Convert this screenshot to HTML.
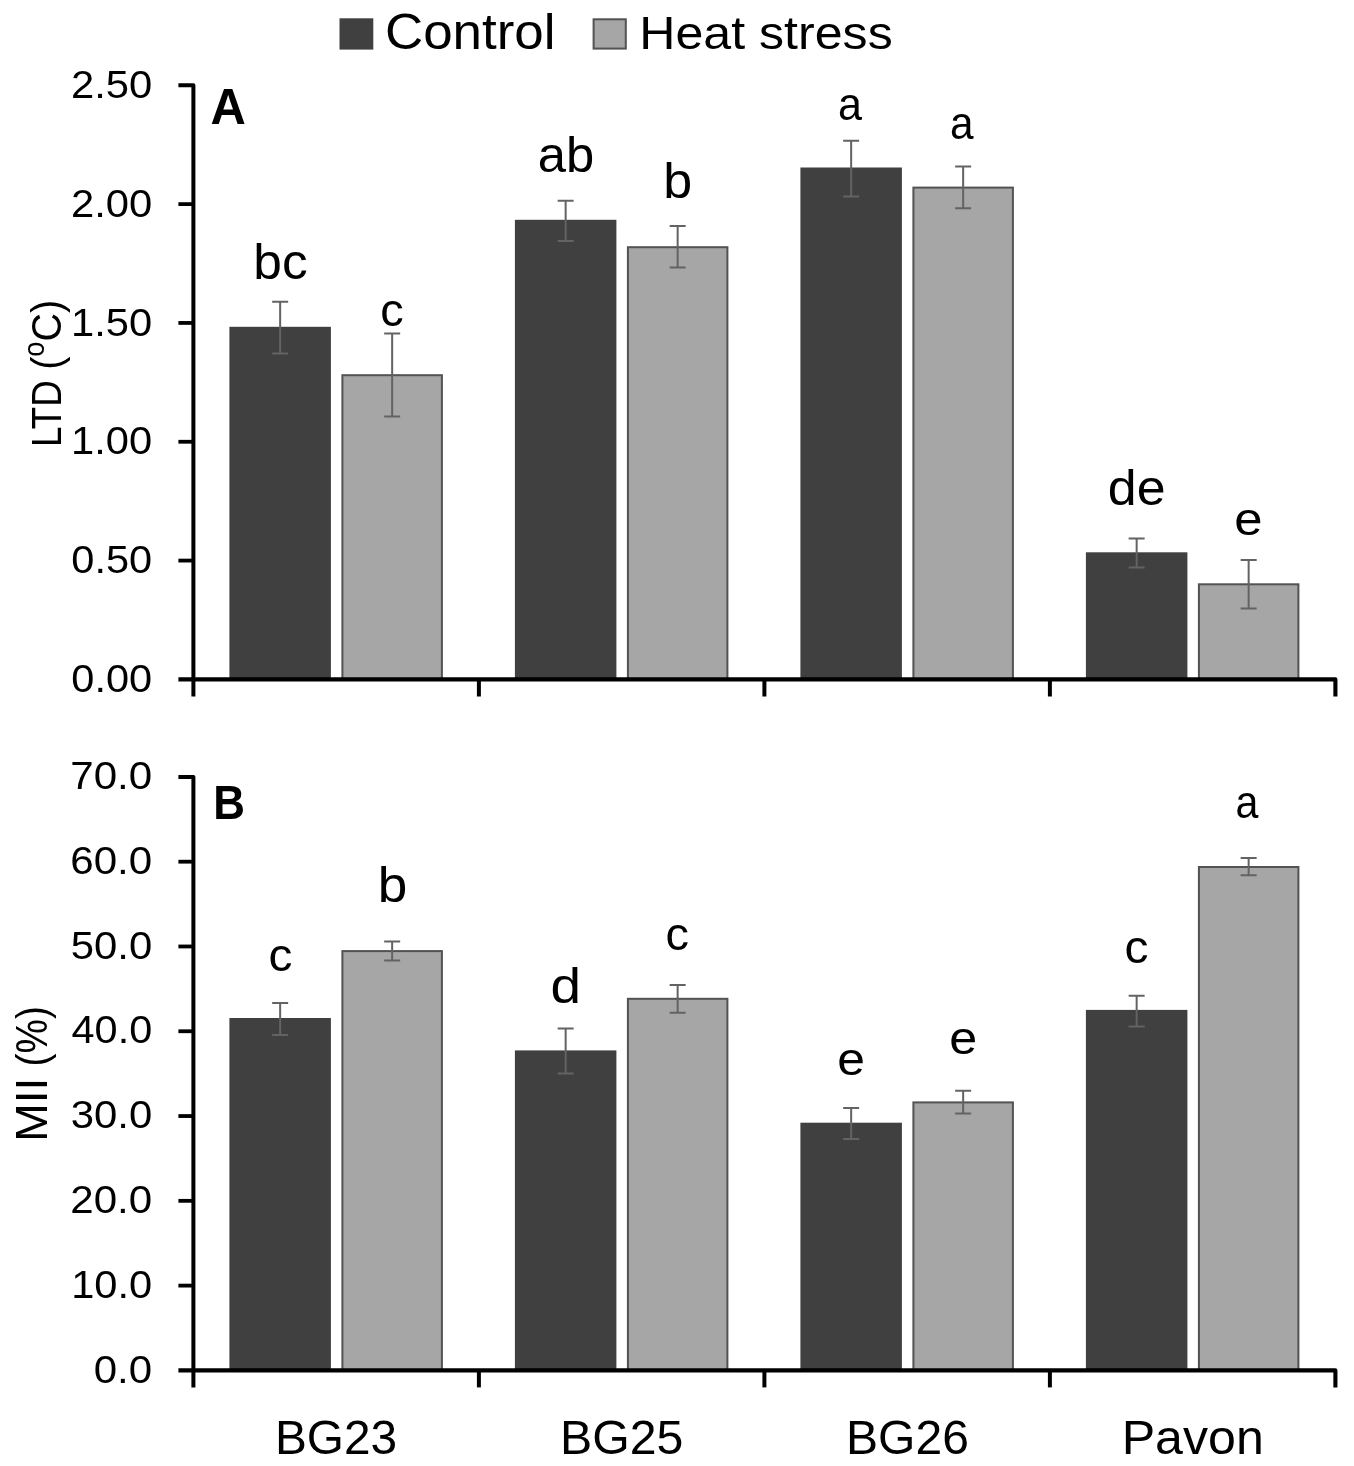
<!DOCTYPE html>
<html><head><meta charset="utf-8"><title>Chart</title>
<style>
html,body{margin:0;padding:0;background:#fff;}
svg{display:block;font-family:"Liberation Sans",sans-serif;}
</style></head><body>
<svg width="1354" height="1466" viewBox="0 0 1354 1466">
<defs><filter id="soft" x="0" y="0" width="1354" height="1466" filterUnits="userSpaceOnUse"><feGaussianBlur stdDeviation="0.55"/></filter></defs>
<rect x="0" y="0" width="1354" height="1466" fill="#ffffff"/>
<g filter="url(#soft)">
<rect x="0" y="0" width="1354" height="1466" fill="#ffffff"/>
<rect x="230.40" y="327.80" width="99.50" height="351.60" fill="#404040" stroke="#404040" stroke-width="2"/>
<rect x="342.40" y="375.20" width="99.50" height="304.20" fill="#a6a6a6" stroke="#525252" stroke-width="2"/>
<rect x="515.90" y="220.80" width="99.50" height="458.60" fill="#404040" stroke="#404040" stroke-width="2"/>
<rect x="627.90" y="247.20" width="99.50" height="432.20" fill="#a6a6a6" stroke="#525252" stroke-width="2"/>
<rect x="801.40" y="168.50" width="99.50" height="510.90" fill="#404040" stroke="#404040" stroke-width="2"/>
<rect x="913.40" y="187.60" width="99.50" height="491.80" fill="#a6a6a6" stroke="#525252" stroke-width="2"/>
<rect x="1086.90" y="553.30" width="99.50" height="126.10" fill="#404040" stroke="#404040" stroke-width="2"/>
<rect x="1198.90" y="584.30" width="99.50" height="95.10" fill="#a6a6a6" stroke="#525252" stroke-width="2"/>
<path d="M280.15,301.70V353.60M272.15,301.70H288.15M272.15,353.60H288.15" stroke="#636363" stroke-width="2" fill="none"/>
<path d="M392.15,333.40V416.40M384.15,333.40H400.15M384.15,416.40H400.15" stroke="#636363" stroke-width="2" fill="none"/>
<path d="M565.65,200.80V240.90M557.65,200.80H573.65M557.65,240.90H573.65" stroke="#636363" stroke-width="2" fill="none"/>
<path d="M677.65,226.00V267.50M669.65,226.00H685.65M669.65,267.50H685.65" stroke="#636363" stroke-width="2" fill="none"/>
<path d="M851.15,140.70V196.40M843.15,140.70H859.15M843.15,196.40H859.15" stroke="#636363" stroke-width="2" fill="none"/>
<path d="M963.15,166.40V208.20M955.15,166.40H971.15M955.15,208.20H971.15" stroke="#636363" stroke-width="2" fill="none"/>
<path d="M1136.65,538.60V567.50M1128.65,538.60H1144.65M1128.65,567.50H1144.65" stroke="#636363" stroke-width="2" fill="none"/>
<path d="M1248.65,559.90V608.60M1240.65,559.90H1256.65M1240.65,608.60H1256.65" stroke="#636363" stroke-width="2" fill="none"/>
<path d="M178.40,85.30H193.40V696.50" stroke="#000" stroke-width="4" stroke-linejoin="round" fill="none"/>
<path d="M178.40,679.40H1335.40V696.50" stroke="#000" stroke-width="4.1" stroke-linejoin="round" fill="none"/>
<path d="M178.40,560.58H193.40" stroke="#000" stroke-width="3.8" fill="none"/>
<path d="M178.40,441.76H193.40" stroke="#000" stroke-width="3.8" fill="none"/>
<path d="M178.40,322.94H193.40" stroke="#000" stroke-width="3.8" fill="none"/>
<path d="M178.40,204.12H193.40" stroke="#000" stroke-width="3.8" fill="none"/>
<path d="M478.90,679.40V696.50" stroke="#000" stroke-width="4" fill="none"/>
<path d="M764.40,679.40V696.50" stroke="#000" stroke-width="4" fill="none"/>
<path d="M1049.90,679.40V696.50" stroke="#000" stroke-width="4" fill="none"/>
<rect x="230.40" y="1019.00" width="99.50" height="351.40" fill="#404040" stroke="#404040" stroke-width="2"/>
<rect x="342.40" y="951.10" width="99.50" height="419.30" fill="#a6a6a6" stroke="#525252" stroke-width="2"/>
<rect x="515.90" y="1051.40" width="99.50" height="319.00" fill="#404040" stroke="#404040" stroke-width="2"/>
<rect x="627.90" y="998.80" width="99.50" height="371.60" fill="#a6a6a6" stroke="#525252" stroke-width="2"/>
<rect x="801.40" y="1123.70" width="99.50" height="246.70" fill="#404040" stroke="#404040" stroke-width="2"/>
<rect x="913.40" y="1102.40" width="99.50" height="268.00" fill="#a6a6a6" stroke="#525252" stroke-width="2"/>
<rect x="1086.90" y="1010.90" width="99.50" height="359.50" fill="#404040" stroke="#404040" stroke-width="2"/>
<rect x="1198.90" y="867.00" width="99.50" height="503.40" fill="#a6a6a6" stroke="#525252" stroke-width="2"/>
<path d="M280.15,1003.10V1034.90M272.15,1003.10H288.15M272.15,1034.90H288.15" stroke="#636363" stroke-width="2" fill="none"/>
<path d="M392.15,941.60V960.40M384.15,941.60H400.15M384.15,960.40H400.15" stroke="#636363" stroke-width="2" fill="none"/>
<path d="M565.65,1028.60V1073.40M557.65,1028.60H573.65M557.65,1073.40H573.65" stroke="#636363" stroke-width="2" fill="none"/>
<path d="M677.65,985.00V1012.80M669.65,985.00H685.65M669.65,1012.80H685.65" stroke="#636363" stroke-width="2" fill="none"/>
<path d="M851.15,1108.10V1139.10M843.15,1108.10H859.15M843.15,1139.10H859.15" stroke="#636363" stroke-width="2" fill="none"/>
<path d="M963.15,1090.70V1113.60M955.15,1090.70H971.15M955.15,1113.60H971.15" stroke="#636363" stroke-width="2" fill="none"/>
<path d="M1136.65,995.70V1026.60M1128.65,995.70H1144.65M1128.65,1026.60H1144.65" stroke="#636363" stroke-width="2" fill="none"/>
<path d="M1248.65,858.00V875.20M1240.65,858.00H1256.65M1240.65,875.20H1256.65" stroke="#636363" stroke-width="2" fill="none"/>
<path d="M178.40,776.90H193.40V1387.40" stroke="#000" stroke-width="4" stroke-linejoin="round" fill="none"/>
<path d="M178.40,1370.40H1335.40V1387.40" stroke="#000" stroke-width="4.1" stroke-linejoin="round" fill="none"/>
<path d="M178.40,1285.61H193.40" stroke="#000" stroke-width="3.8" fill="none"/>
<path d="M178.40,1200.83H193.40" stroke="#000" stroke-width="3.8" fill="none"/>
<path d="M178.40,1116.04H193.40" stroke="#000" stroke-width="3.8" fill="none"/>
<path d="M178.40,1031.26H193.40" stroke="#000" stroke-width="3.8" fill="none"/>
<path d="M178.40,946.47H193.40" stroke="#000" stroke-width="3.8" fill="none"/>
<path d="M178.40,861.69H193.40" stroke="#000" stroke-width="3.8" fill="none"/>
<path d="M478.90,1370.40V1387.40" stroke="#000" stroke-width="4" fill="none"/>
<path d="M764.40,1370.40V1387.40" stroke="#000" stroke-width="4" fill="none"/>
<path d="M1049.90,1370.40V1387.40" stroke="#000" stroke-width="4" fill="none"/>
<rect x="340.5" y="19.3" width="31.8" height="29.3" fill="#404040" stroke="#404040" stroke-width="2"/>
<rect x="593.6" y="19.3" width="32.2" height="29.3" fill="#a6a6a6" stroke="#525252" stroke-width="2"/>
<text transform="translate(384.95,48.71) scale(0.2647,0.2456)" font-size="200" fill="#000">Control</text>
<text transform="translate(639.29,48.53) scale(0.2506,0.2350)" font-size="200" fill="#000">Heat stress</text>
<text transform="translate(71.34,692.11) scale(0.2078,0.1965)" font-size="200" fill="#000">0.00</text>
<text transform="translate(71.34,573.29) scale(0.2078,0.1965)" font-size="200" fill="#000">0.50</text>
<text transform="translate(71.07,454.47) scale(0.2084,0.1965)" font-size="200" fill="#000">1.00</text>
<text transform="translate(71.07,335.65) scale(0.2084,0.1965)" font-size="200" fill="#000">1.50</text>
<text transform="translate(70.91,216.83) scale(0.2089,0.1965)" font-size="200" fill="#000">2.00</text>
<text transform="translate(70.91,98.01) scale(0.2089,0.1965)" font-size="200" fill="#000">2.50</text>
<text transform="translate(93.72,1382.61) scale(0.2103,0.1965)" font-size="200" fill="#000">0.0</text>
<text transform="translate(71.18,1297.82) scale(0.2082,0.1965)" font-size="200" fill="#000">10.0</text>
<text transform="translate(70.30,1213.04) scale(0.2105,0.1965)" font-size="200" fill="#000">20.0</text>
<text transform="translate(70.73,1128.25) scale(0.2094,0.1965)" font-size="200" fill="#000">30.0</text>
<text transform="translate(71.57,1043.46) scale(0.2071,0.1965)" font-size="200" fill="#000">40.0</text>
<text transform="translate(70.73,958.68) scale(0.2094,0.1965)" font-size="200" fill="#000">50.0</text>
<text transform="translate(70.30,873.89) scale(0.2105,0.1965)" font-size="200" fill="#000">60.0</text>
<text transform="translate(70.30,789.11) scale(0.2105,0.1965)" font-size="200" fill="#000">70.0</text>
<text transform="translate(274.98,1454.32) scale(0.2388,0.2387)" font-size="200" fill="#000">BG23</text>
<text transform="translate(560.04,1454.32) scale(0.2411,0.2387)" font-size="200" fill="#000">BG25</text>
<text transform="translate(846.06,1454.32) scale(0.2402,0.2387)" font-size="200" fill="#000">BG26</text>
<text transform="translate(1121.69,1454.32) scale(0.2506,0.2421)" font-size="200" fill="#000">Pavon</text>
<text transform="translate(210.48,123.50) scale(0.2448,0.2478)" font-size="200" font-weight="bold" fill="#000">A</text>
<text transform="translate(213.14,818.70) scale(0.2197,0.2420)" font-size="200" font-weight="bold" fill="#000">B</text>
<text transform="translate(253.36,278.81) scale(0.2570,0.2463)" font-size="200" fill="#000">bc</text>
<text transform="translate(380.32,325.83) scale(0.2345,0.2336)" font-size="200" fill="#000">c</text>
<text transform="translate(537.87,171.81) scale(0.2539,0.2463)" font-size="200" fill="#000">ab</text>
<text transform="translate(663.22,197.51) scale(0.2600,0.2463)" font-size="200" fill="#000">b</text>
<text transform="translate(837.88,119.73) scale(0.2155,0.2336)" font-size="200" fill="#000">a</text>
<text transform="translate(949.91,138.63) scale(0.2117,0.2336)" font-size="200" fill="#000">a</text>
<text transform="translate(1107.82,504.81) scale(0.2595,0.2463)" font-size="200" fill="#000">de</text>
<text transform="translate(1234.27,535.13) scale(0.2543,0.2336)" font-size="200" fill="#000">e</text>
<text transform="translate(268.59,970.63) scale(0.2391,0.2336)" font-size="200" fill="#000">c</text>
<text transform="translate(377.85,902.11) scale(0.2656,0.2463)" font-size="200" fill="#000">b</text>
<text transform="translate(550.60,1002.61) scale(0.2744,0.2463)" font-size="200" fill="#000">d</text>
<text transform="translate(665.62,950.33) scale(0.2345,0.2336)" font-size="200" fill="#000">c</text>
<text transform="translate(837.31,1074.83) scale(0.2489,0.2336)" font-size="200" fill="#000">e</text>
<text transform="translate(949.29,1053.63) scale(0.2511,0.2336)" font-size="200" fill="#000">e</text>
<text transform="translate(1124.48,963.03) scale(0.2402,0.2336)" font-size="200" fill="#000">c</text>
<text transform="translate(1235.55,818.03) scale(0.2058,0.2336)" font-size="200" fill="#000">a</text>
<text transform="translate(60.90,446.94) rotate(-90) scale(0.1837,0.2167)" font-size="200" fill="#000">LTD</text>
<text transform="translate(60.90,369.76) rotate(-90) scale(0.1970,0.2167)" font-size="200" fill="#000">(<tspan dy="-80" font-size="138">o</tspan><tspan dy="80">C)</tspan></text>
<text transform="translate(47.30,1141.69) rotate(-90) scale(0.2309,0.2217)" font-size="200" fill="#000">MII</text>
<text transform="translate(47.30,1066.42) rotate(-90) scale(0.1937,0.2217)" font-size="200" fill="#000">(%)</text>
</g></svg></body></html>
